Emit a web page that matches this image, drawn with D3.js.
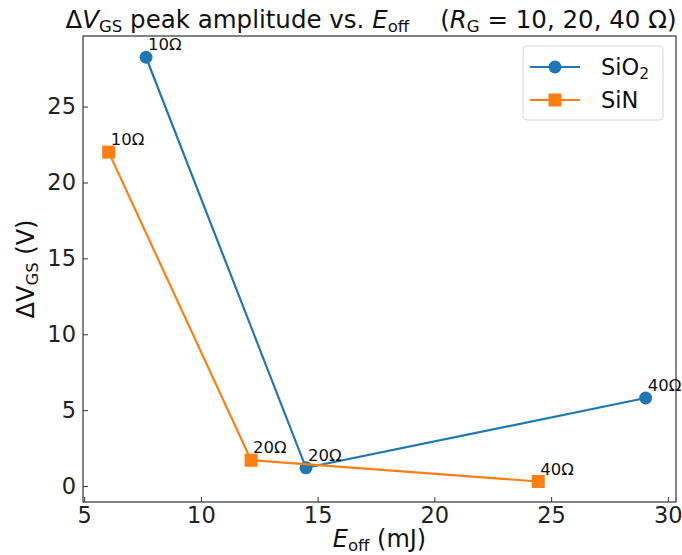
<!DOCTYPE html>
<html>
<head>
<meta charset="utf-8">
<script src="https://cdn.jsdelivr.net/npm/d3@7"></script>
<style>
body { margin: 0; background: #fff; }
svg { font-family: "DejaVu Sans", sans-serif; }
</style>
</head>
<body>
<svg id="chart"></svg>
<script>
// data
let sio2X = [7.65, 14.5, 29.05];
let sio2Y = [28.25, 1.2, 5.8];
let sinX = [6.05, 12.15, 24.45];
let sinY = [22.0, 1.7, 0.3];
let rgLabels = ['10Ω', '20Ω', '40Ω'];
let xTicks = [5, 10, 15, 20, 25, 30];
let yTicks = [0, 5, 10, 15, 20, 25];

let width = 682;
let height = 555;
let plotLeft = 83, plotRight = 676, plotTop = 36, plotBottom = 502;
let labelFont = 24, subFont = 16.5;

let svg = d3.select('#chart')
    .attr('width', width)
    .attr('height', height);

let xScale = d3.scaleLinear().domain([4.95, 30.35]).range([plotLeft, plotRight]);
let yScale = d3.scaleLinear().domain([-1.05, 29.65]).range([plotBottom, plotTop]);

// axes, ticks pointing in
let xAxis = d3.axisBottom(xScale).tickValues(xTicks).tickSizeInner(-5).tickSizeOuter(0).tickPadding(5);
let yAxis = d3.axisLeft(yScale).tickValues(yTicks).tickSizeInner(-5).tickSizeOuter(0).tickPadding(7);

let gx = svg.append('g')
    .attr('transform', 'translate(0,' + plotBottom + ')')
    .call(xAxis);
let gy = svg.append('g')
    .attr('transform', 'translate(' + plotLeft + ',0)')
    .call(yAxis);
[gx, gy].forEach(g => {
    g.selectAll('text').attr('font-size', 22.5).attr('fill', '#222').attr('font-family', '"DejaVu Sans", sans-serif');
    g.selectAll('line').attr('stroke', '#333');
    g.select('.domain').remove();
});

// frame
svg.append('rect')
    .attr('x', plotLeft).attr('y', plotTop)
    .attr('width', plotRight - plotLeft).attr('height', plotBottom - plotTop)
    .attr('fill', 'none').attr('stroke', '#333').attr('stroke-width', 1.2);

let series = [
    { name: 'SiO2', xs: sio2X, ys: sio2Y, color: '#1f77b4', marker: 'circle' },
    { name: 'SiN', xs: sinX, ys: sinY, color: '#ff7f0e', marker: 'square' }
];

let line = d3.line().x(d => xScale(d[0])).y(d => yScale(d[1]));

let drawMarker = (g, type, cx, cy, color) => {
    if (type === 'circle') {
        g.append('circle').attr('cx', cx).attr('cy', cy).attr('r', 6.5).attr('fill', color);
    } else {
        g.append('rect').attr('x', cx - 6.5).attr('y', cy - 6.5)
            .attr('width', 13).attr('height', 13).attr('fill', color);
    }
};

series.forEach(s => {
    let pts = s.xs.map((x, i) => [x, s.ys[i]]);
    let g = svg.append('g');
    g.append('path').datum(pts)
        .attr('d', line)
        .attr('fill', 'none')
        .attr('stroke', s.color)
        .attr('stroke-width', 2.2);
    pts.forEach(p => drawMarker(g, s.marker, xScale(p[0]), yScale(p[1]), s.color));
});

// resistance labels next to points
series.forEach(s => {
    s.xs.forEach((x, i) => {
        svg.append('text')
            .attr('x', xScale(x) + 2)
            .attr('y', yScale(s.ys[i]) - 7)
            .attr('font-size', 16.5)
            .attr('fill', '#111')
            .text(rgLabels[i]);
    });
});

// helper for text with subscripts
let addSub = (t, txt) => {
    t.append('tspan').attr('font-size', subFont).attr('dy', 4).text(txt);
};
let back = t => t.append('tspan').attr('dy', -4);

// title
let title = svg.append('text')
    .attr('x', 371)
    .attr('y', 28)
    .attr('text-anchor', 'middle')
    .attr('font-size', 24.5)
    .attr('fill', '#111');
title.append('tspan').text('Δ');
title.append('tspan').attr('font-style', 'italic').text('V');
addSub(title, 'GS');
back(title).text(' peak amplitude vs. ');
title.append('tspan').attr('font-style', 'italic').text('E');
addSub(title, 'off');
back(title).text('\u00a0\u00a0\u00a0\u00a0(');
title.append('tspan').attr('font-style', 'italic').text('R');
addSub(title, 'G');
back(title).text(' = 10, 20, 40 Ω)');

// x label
let xl = svg.append('text')
    .attr('x', (plotLeft + plotRight) / 2)
    .attr('y', 547)
    .attr('text-anchor', 'middle')
    .attr('font-size', labelFont)
    .attr('fill', '#111');
xl.append('tspan').attr('font-style', 'italic').text('E');
addSub(xl, 'off');
back(xl).text(' (mJ)');

// y label
let yl = svg.append('text')
    .attr('transform', 'translate(34,' + ((plotTop + plotBottom) / 2) + ') rotate(-90)')
    .attr('text-anchor', 'middle')
    .attr('font-size', labelFont)
    .attr('fill', '#111');
yl.append('tspan').text('ΔV');
addSub(yl, 'GS');
back(yl).text(' (V)');

// legend
let lg = svg.append('g').attr('transform', 'translate(523,46)');
lg.append('rect')
    .attr('width', 140).attr('height', 74)
    .attr('rx', 4)
    .attr('fill', '#fff')
    .attr('stroke', '#d6d6d6');
series.forEach((s, i) => {
    let yy = 21 + i * 33;
    lg.append('line')
        .attr('x1', 7).attr('x2', 57).attr('y1', yy).attr('y2', yy)
        .attr('stroke', s.color).attr('stroke-width', 2.2);
    drawMarker(lg, s.marker, 32, yy, s.color);
    let t = lg.append('text')
        .attr('x', 78).attr('y', yy + 8)
        .attr('font-size', 22.5)
        .attr('fill', '#111');
    if (s.name === 'SiO2') {
        t.append('tspan').text('SiO');
        t.append('tspan').attr('font-size', 15.5).attr('dy', 4).text('2');
    } else {
        t.text(s.name);
    }
});
</script>
</body>
</html>
